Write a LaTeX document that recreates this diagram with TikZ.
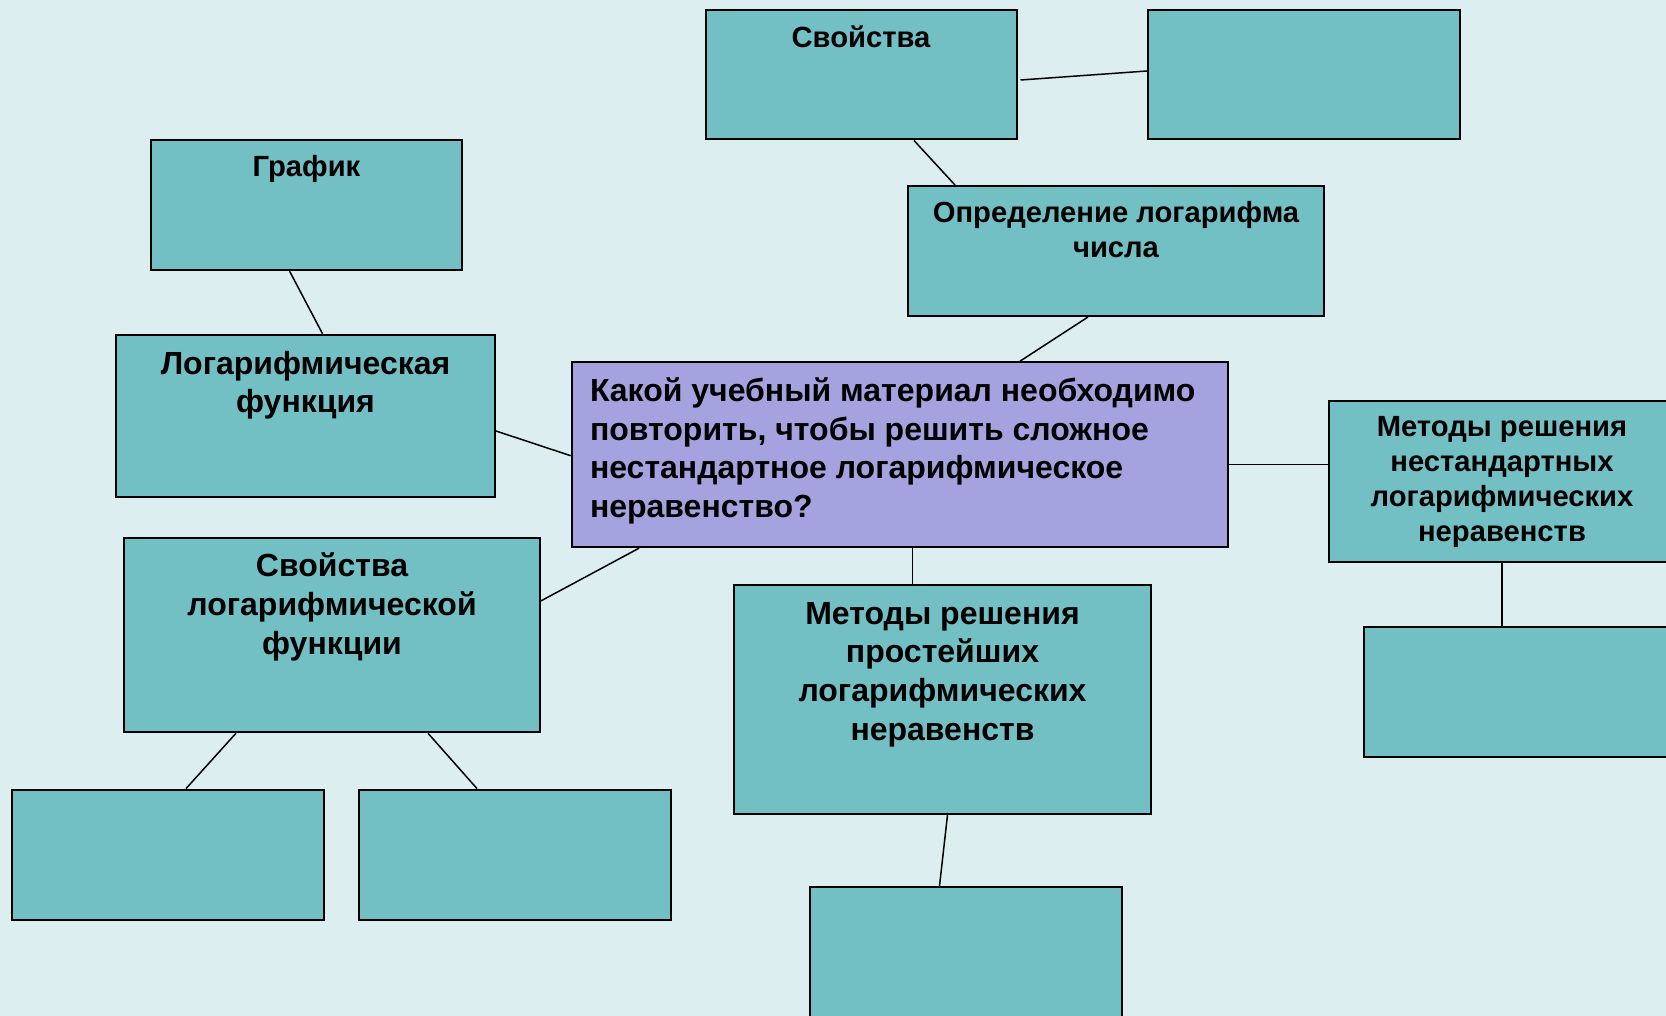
\documentclass[tikz,border=0pt]{standalone}
\usepackage{fontspec}
\setmainfont{Liberation Sans}
\usetikzlibrary{calc}

\definecolor{slidebg}{RGB}{220,238,240}
\definecolor{tealbox}{RGB}{114,191,196}
\definecolor{lilacbox}{RGB}{164,163,223}

\begin{document}
\begin{tikzpicture}[
  x=0.5pt,y=-0.5pt,
  box/.style={draw,line width=1pt,fill=tealbox,inner sep=0pt},
  cell/.style={box,minimum width=156pt,minimum height=65pt},
  big/.style={inner sep=0pt,align=center,font=\bfseries\fontsize{16}{19.3}\selectfont},
  small/.style={inner sep=0pt,align=center,font=\bfseries\fontsize{14.6}{17.5}\selectfont},
  link/.style={line width=0.75pt}
]
  \useasboundingbox (0,0) rectangle (1666,1016);
  \clip (0,0) rectangle (1666,1016);
  \fill[slidebg] (0,0) rectangle (1666,1016);

  % top row
  \node[box,minimum width=155.5pt,minimum height=64.5pt,
    label={[small,anchor=north,yshift=-8pt]north:Свойства}] (prop) at (861,75) {};
  \node[cell,minimum height=64.5pt] (propx) at (1304,75) {};
  \node[box,minimum width=155.5pt,minimum height=65pt,
    label={[small,anchor=north,yshift=-8pt]north:График}] (graph) at (306.5,205) {};
  \node[box,minimum width=207.75pt,minimum height=65pt,
    label={[small,anchor=north,yshift=-8pt]north:{Определение логарифма\\числа}}] (defn) at (1116,251) {};

  % middle row
  \node[box,minimum width=189.5pt,minimum height=81.3pt,
    label={[big,anchor=north,yshift=-8.5pt]north:{Логарифмическая\\функция}}] (logf) at (305.5,416) {};
  \node[box,fill=lilacbox,minimum width=328.4pt,minimum height=92.5pt,
    label={[big,align=left,anchor=north west,xshift=9.5pt,yshift=-8pt]north west:{Какой учебный материал необходимо\\повторить, чтобы решить сложное\\нестандартное логарифмическое\\неравенство?}}] (q) at (900,454.7) {};
  \node[box,minimum width=173pt,minimum height=80.75pt,
    label={[small,anchor=north,yshift=-8.3pt]north:{Методы решения\\нестандартных\\логарифмических\\неравенств}}] (nstd) at (1502,481.3) {};
  \node[cell,minimum height=65.4pt] (nstdx) at (1520,692) {};

  % bottom row
  \node[box,minimum width=207.75pt,minimum height=97.25pt,
    label={[big,anchor=north,yshift=-8pt]north:{Свойства\\логарифмической\\функции}}] (plog) at (332,635) {};
  \node[cell,minimum height=65.4pt] (plogA) at (168,855) {};
  \node[cell,minimum height=65.4pt] (plogB) at (515,855) {};
  \node[box,minimum width=208.25pt,minimum height=114.25pt,
    label={[big,anchor=north,yshift=-8.7pt]north:{Методы решения\\простейших\\логарифмических\\неравенств}}] (simple) at (942.5,699.7) {};
  \node[cell] (simplex) at (965.5,952) {};

  % connectors
  \draw[link] ($(prop.east)+(3,5)$) -- ($(propx.west)+(0,-4)$);
  \draw[link] ($(prop.south)+(53,0)$) -- ($(defn.north)+(-161,0)$);
  \draw[link] ($(defn.south)+(-28,0)$) -- ($(q.north)+(120,0)$);
  \draw[link] ($(graph.south)+(-17,0)$) -- ($(logf.north)+(17,0)$);
  \draw[link] ($(logf.east)+(0,15)$) -- ($(q.west)+(0,1)$);
  \draw[link] ($(q.south)+(-261,0)$) -- ($(plog.east)+(0,-34)$);
  \draw[link] ($(q.east)+(0,9.6)$) -- ($(nstd.west)+(0,-17)$);
  \draw[link] ($(q.south)+(12.5,0)$) -- ($(simple.north)+(-30,0)$);
  \draw[link] (nstd.south) -- ($(nstdx.north)+(-18,0)$);
  \draw[link] ($(plog.south)+(-96,0)$) -- ($(plogA.north)+(18,0)$);
  \draw[link] ($(plog.south)+(96,0)$) -- ($(plogB.north)+(-38,0)$);
  \draw[link] ($(simple.south)+(5,0)$) -- ($(simplex.north)+(-26,0)$);
\end{tikzpicture}
\end{document}
